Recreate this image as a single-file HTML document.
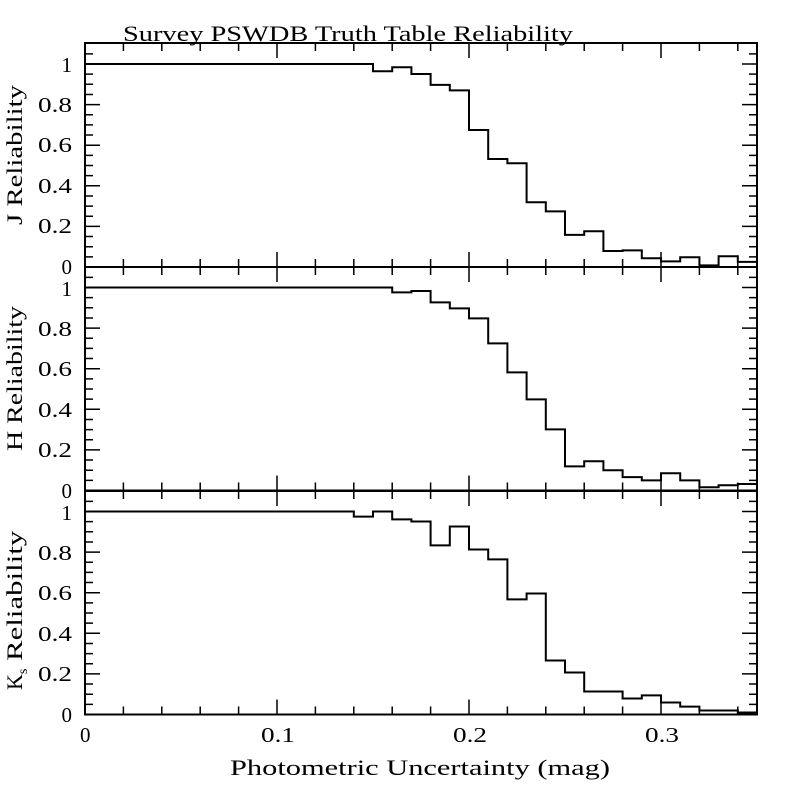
<!DOCTYPE html>
<html><head><meta charset="utf-8"><style>
html,body{margin:0;padding:0;background:#fff;}
svg{display:block}
text{font-family:"Liberation Serif",serif;fill:#000}
</style></head><body>
<svg id="s" width="800" height="800" viewBox="0 0 800 800" xmlns="http://www.w3.org/2000/svg">
<g id="g" stroke="#000" fill="none" stroke-width="2"></g>
<text x="123" y="41" font-size="22" textLength="450" lengthAdjust="spacingAndGlyphs">Survey PSWDB Truth Table Reliability</text>
<g font-size="21" text-anchor="end">
<text x="72" y="72">1</text><text x="72" y="112" textLength="34" lengthAdjust="spacingAndGlyphs">0.8</text><text x="72" y="152" textLength="34" lengthAdjust="spacingAndGlyphs">0.6</text><text x="72" y="193" textLength="34" lengthAdjust="spacingAndGlyphs">0.4</text><text x="72" y="233" textLength="34" lengthAdjust="spacingAndGlyphs">0.2</text><text x="72" y="274">0</text>
<text x="72" y="296">1</text><text x="72" y="336" textLength="34" lengthAdjust="spacingAndGlyphs">0.8</text><text x="72" y="376" textLength="34" lengthAdjust="spacingAndGlyphs">0.6</text><text x="72" y="417" textLength="34" lengthAdjust="spacingAndGlyphs">0.4</text><text x="72" y="457" textLength="34" lengthAdjust="spacingAndGlyphs">0.2</text><text x="72" y="498">0</text>
<text x="72" y="520">1</text><text x="72" y="560" textLength="34" lengthAdjust="spacingAndGlyphs">0.8</text><text x="72" y="600" textLength="34" lengthAdjust="spacingAndGlyphs">0.6</text><text x="72" y="641" textLength="34" lengthAdjust="spacingAndGlyphs">0.4</text><text x="72" y="681" textLength="34" lengthAdjust="spacingAndGlyphs">0.2</text><text x="72" y="722">0</text>
</g>
<g font-size="21">
<text x="80" y="742">0</text><text x="261" y="742" textLength="34" lengthAdjust="spacingAndGlyphs">0.1</text><text x="453" y="742" textLength="34" lengthAdjust="spacingAndGlyphs">0.2</text><text x="645" y="742" textLength="34" lengthAdjust="spacingAndGlyphs">0.3</text>
<text x="230" y="775" font-size="22" textLength="380" lengthAdjust="spacingAndGlyphs">Photometric Uncertainty (mag)</text>
<text transform="translate(22,225) rotate(-90)" font-size="22" textLength="140" lengthAdjust="spacingAndGlyphs">J Reliability</text>
<text transform="translate(22,451) rotate(-90)" font-size="22" textLength="145" lengthAdjust="spacingAndGlyphs">H Reliability</text>
<text transform="translate(22,690) rotate(-90)" font-size="22">K<tspan font-size="14" dy="5">s</tspan><tspan dy="-5" textLength="138" lengthAdjust="spacingAndGlyphs"> Reliability</tspan></text>
</g>
</svg>
<script>
var g=document.getElementById('g');
var X0=85,SX=1920,SY=203;
var panels=[
 {top:43,base:267,d:[0.964,0.984,0.951,0.897,0.870,0.675,0.532,0.511,0.319,0.274,0.158,0.176,0.079,0.082,0.043,0.028,0.048,0.008,0.053,0.025]},
 {top:267,base:490.5,d:[1,0.976,0.983,0.927,0.897,0.848,0.725,0.582,0.449,0.301,0.119,0.144,0.100,0.066,0.050,0.085,0.050,0.016,0.026,0.032]},
 {top:491,base:714.5,d:[1.0,0.961,0.951,0.833,0.926,0.813,0.764,0.567,0.596,0.266,0.207,0.113,0.113,0.079,0.094,0.059,0.039,0.020,0.020,0.010]}
];
function add(d,w){var p=document.createElementNS('http://www.w3.org/2000/svg','path');p.setAttribute('d',d);if(w)p.setAttribute('stroke-width',w);g.appendChild(p);}
panels.forEach(function(P,idx){
 add('M85 '+P.top+' H757 V'+P.base+' H85 Z');
 var t='';
 for(var i=1;i<=17;i++){var x=X0+i*0.02*SX;if(x>756)break;var L=(i%5==0)?15:8;
  t+='M'+x+' '+P.base+' v-'+L+' M'+x+' '+P.top+' v'+L+' ';}
 for(var j=1;j<=21;j++){var y=P.base-j*0.05*SY;if(y<P.top+1)break;var L=(j%4==0)?15:8;
  t+='M85 '+y+' h'+L+' M757 '+y+' h-'+L+' ';}
 add(t,1.5);
 var y1=P.base-SY,s;
 if(idx==2){s='M85 '+y1+' H'+(X0+0.14*SX)+' V'+(P.base-0.975*SY)+' H'+(X0+0.15*SX);}
 else{s='M85 '+y1+' H'+(X0+0.15*SX);}
 P.d.forEach(function(v,k){var y=P.base-v*SY;s+=' V'+y+' H'+(X0+(0.16+k*0.01)*SX);});
 add(s);
});
</script>
</body></html>
